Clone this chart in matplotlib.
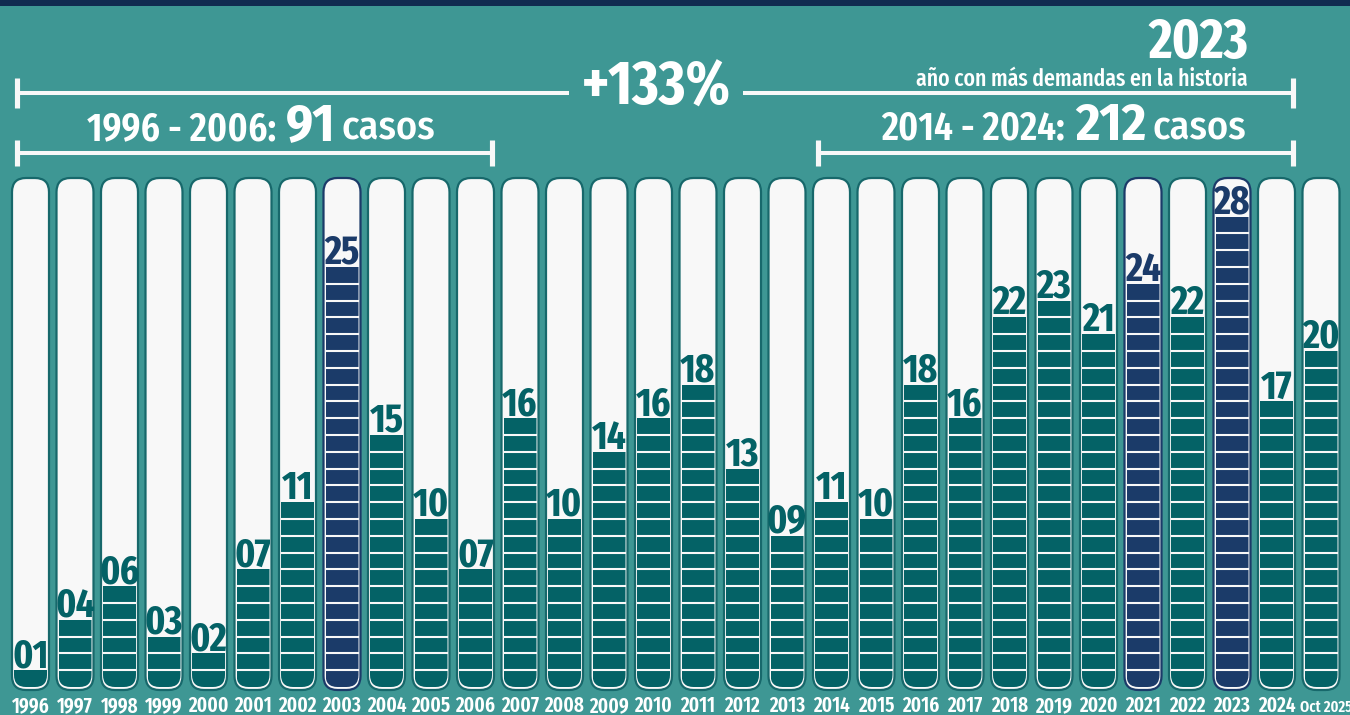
import numpy as np
import matplotlib.pyplot as plt
from matplotlib.patches import FancyBboxPatch, Rectangle

# datos
years = ["1996", "1997", "1998", "1999", "2000", "2001", "2002", "2003", "2004", "2005",
         "2006", "2007", "2008", "2009", "2010", "2011", "2012", "2013", "2014", "2015",
         "2016", "2017", "2018", "2019", "2020", "2021", "2022", "2023", "2024", "Oct 2025"]
casos = [1, 4, 6, 3, 2, 7, 11, 25, 15, 10, 7, 16, 10, 14, 16, 18, 13, 9, 11, 10,
         18, 16, 22, 23, 21, 24, 22, 28, 17, 20]
destacados = ["2003", "2021", "2023"]
periodo_a = ("1996", "2006")
periodo_b = ("2014", "2024")
variacion = "+133%"
anio_record = "2023"
nota_record = "año con más demandas en la historia"

# colores
fondo = "#3e9794"
franja = "#112b50"
teal = "#046266"
navy = "#1b3b69"
borde_teal = "#17686b"
tubo_bg = "#f8f8f8"

# fuentes
XC = ["Fira Sans Extra Condensed", "DejaVu Sans"]
CO = ["Fira Sans Condensed", "DejaVu Sans"]

W, H = 1350, 715
PX_X, PX_Y = 44.5, 16.8   # pixeles por unidad
X0, Y0 = 30.5, 687

fig = plt.figure(figsize=(W / 100, H / 100), dpi=100)
fig.patch.set_facecolor(fondo)
ax = fig.add_axes([0, 0, 1, 1])
ax.set_xlim((0 - X0) / PX_X, (W - X0) / PX_X)
ax.set_ylim((Y0 - H) / PX_Y, Y0 / PX_Y)
ax.axis("off")

fig.add_artist(Rectangle((0, 1 - 6 / H), 1, 6 / H, transform=fig.transFigure,
                         color=franja, lw=0))

asp = PX_X / PX_Y
ancho_tubo = 37 / PX_X
ancho_in = 33 / PX_X
y_bot = -3 / PX_Y
y_top = (Y0 - 178) / PX_Y

for i, (yr, v) in enumerate(zip(years, casos)):
    hl = yr in destacados
    c_fill = navy if hl else teal
    c_edge = navy if hl else borde_teal
    tubo = FancyBboxPatch((i - ancho_tubo / 2, y_bot), ancho_tubo, y_top - y_bot,
                          boxstyle="round,pad=0,rounding_size=%f" % (14 / PX_X),
                          mutation_aspect=asp, fc=tubo_bg, ec=c_edge, lw=1.6, zorder=1)
    ax.add_patch(tubo)
    clip = FancyBboxPatch((i - ancho_in / 2, 0), ancho_in, y_top - 0.3,
                          boxstyle="round,pad=0,rounding_size=%f" % (12 / PX_X),
                          mutation_aspect=asp, transform=ax.transData)
    barra = ax.bar(i, v, width=ancho_in, color=c_fill, zorder=2)
    barra[0].set_clip_path(clip)
    if v > 1:
        ax.hlines(np.arange(1, v), i - ancho_in / 2, i + ancho_in / 2,
                  colors=tubo_bg, lw=1.5, zorder=3)
    ax.text(i, v + 3 / PX_Y, "%02d" % v, ha="center", va="baseline", fontsize=29,
            fontweight="bold", color=c_fill, family=XC, zorder=4)
    ax.text(i + (0.12 if yr[0] == "O" else 0), (Y0 - 712) / PX_Y, yr, ha="center",
            va="baseline", fontsize=15 if yr[0] != "O" else 11.5,
            fontweight="semibold", color="white", family=XC)

# corchetes
def corchete(i0, i1, y, cap, lw):
    x0, x1 = i0 - 0.30, i1 + 0.37
    ax.plot([x0, x1], [y, y], color=tubo_bg, lw=lw, solid_capstyle="butt", zorder=1)
    for x in (x0, x1):
        ax.plot([x, x], [y - cap, y + cap], color=tubo_bg, lw=lw + 0.8,
                solid_capstyle="butt", zorder=1)

ia0, ia1 = years.index(periodo_a[0]), years.index(periodo_a[1])
ib0, ib1 = years.index(periodo_b[0]), years.index(periodo_b[1])
suma_a = sum(casos[ia0:ia1 + 1])
suma_b = sum(casos[ib0:ib1 + 1])

corchete(ia0, ib1, (Y0 - 93) / PX_Y, 0.9, 2.9)
corchete(ia0, ia1, (Y0 - 153) / PX_Y, 0.8, 2.9)
corchete(ib0, ib1, (Y0 - 153) / PX_Y, 0.8, 2.9)

fig.text(656 / W, 1 - 105 / H, variacion, ha="center", va="baseline",
         fontsize=44, fontweight="bold", color="white", family=XC, zorder=3,
         bbox=dict(facecolor=fondo, edgecolor="none", pad=9))

fig.text(1248 / W, 1 - 58 / H, anio_record, ha="right", va="baseline", fontsize=40,
         fontweight="bold", color="white", family=XC)
fig.text(1248 / W, 1 - 86 / H, nota_record, ha="right", va="baseline", fontsize=17,
         fontweight="medium", color="white", family=XC)

renderer = fig.canvas.get_renderer()

def texto_partes(x_px, y_px, partes, ha="left"):
    arts, anchos = [], []
    for s, size, w, fam, gap in partes:
        t = fig.text(0, 0, s, fontsize=size, fontweight=w, color="white",
                     va="baseline", family=fam)
        arts.append(t)
        anchos.append(t.get_window_extent(renderer).width + gap)
    total = sum(anchos) - partes[-1][4]
    x = x_px if ha == "left" else x_px - total
    for t, a in zip(arts, anchos):
        t.set_position((x / W, 1 - y_px / H))
        x += a

texto_partes(87, 140, [("%s\u2009-\u2009%s:" % periodo_a, 29, "semibold", XC, 10),
                       (str(suma_a), 38, "bold", CO, 6),
                       ("casos", 29, "medium", CO, 0)])
texto_partes(1246, 140, [("%s\u2009-\u2009%s:" % periodo_b, 29, "semibold", XC, 10),
                         (str(suma_b), 38, "bold", CO, 6),
                         ("casos", 29, "medium", CO, 0)], ha="right")

plt.savefig("out.png", dpi=100, facecolor=fondo)
plt.close()
